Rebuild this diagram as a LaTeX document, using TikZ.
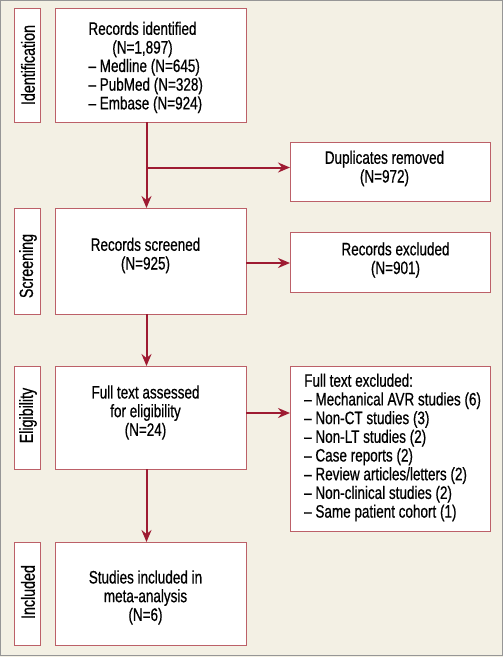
\documentclass[tikz,border=0pt]{standalone}
\usepackage{fontspec}
\setmainfont{Liberation Sans}[FakeStretch=0.75,FakeBold=0.6]
\usetikzlibrary{arrows.meta,calc}
\definecolor{bgc}{RGB}{243,240,228}
\definecolor{boxc}{RGB}{188,96,104}
\definecolor{arrc}{RGB}{158,27,50}
\definecolor{framec}{RGB}{150,150,150}
\begin{document}
\begin{tikzpicture}[x=1pt,y=-1pt,
  box/.style={draw=boxc,line width=1pt,fill=white,inner sep=0pt,outer sep=0pt},
  mainbox/.style={box,minimum width=191pt},
  sidebox/.style={box,minimum width=200pt},
  labbox/.style={box,minimum width=26pt},
  txt/.style={inner sep=0pt,align=center,font=\fontsize{18}{18.7}\selectfont},
  ltxt/.style={inner sep=0pt,align=left,font=\fontsize{18}{18.7}\selectfont},
  labtxt/.style={inner sep=0pt,rotate=90,font=\fontsize{19}{20}\selectfont},
  flow/.style={draw=arrc,line width=2pt,-{Stealth[length=12pt,width=10pt,inset=4pt]}}]
\useasboundingbox (0,0) rectangle (503,657);
\fill[bgc] (0,0) rectangle (503,657);
\draw[framec,line width=1pt] (0.5,0.5) rectangle (502.5,655.5);
% stage labels
\node[labbox,minimum height=114pt] (lab1) at (27,65) {};
\node[labbox,minimum height=106pt] (lab2) at (27,261) {};
\node[labbox,minimum height=103pt] (lab3) at (27,417.5) {};
\node[labbox,minimum height=103pt] (lab4) at (27,593.5) {};
\node[labtxt] (lab1t) at ($(lab1.center)+(1,0)$) {Identification};
\node[labtxt] (lab2t) at ($(lab2.center)+(1,5)$) {Screening};
\node[labtxt] (lab3t) at ($(lab3.center)+(1,-2)$) {Eligibility};
\node[labtxt] (lab4t) at ($(lab4.center)+(1,-1.5)$) {Included};
% main column
\node[mainbox,minimum height=114pt] (id) at (150.5,65) {};
\node[mainbox,minimum height=106pt] (scr) at (150.5,261) {};
\node[mainbox,minimum height=103pt] (elig) at (150.5,417.5) {};
\node[mainbox,minimum height=103pt] (inc) at (150.5,593.5) {};
\node[txt] (idt1) at (142.5,39.5) {Records identified\\(N=1,897)};
\node[ltxt,anchor=west] (idt2) at (88.3,86) {– Medline (N=645)\\– PubMed (N=328)\\– Embase (N=924)};
\node[txt] (scrt) at ($(scr.center)+(-5,-5.5)$) {Records screened\\(N=925)};
\node[txt] (eligt) at ($(elig.center)+(-5,-5)$) {Full text assessed\\for eligibility\\(N=24)};
\node[txt] (inct) at ($(inc.center)+(-5,4)$) {Studies included in\\meta-analysis\\(N=6)};
% side column
\node[sidebox,minimum height=59pt] (dup) at (390,171.5) {};
\node[sidebox,minimum height=60pt] (excl) at (390,262) {};
\node[sidebox,minimum height=165pt] (ftex) at (390,448.5) {};
\node[txt] (dupt) at ($(dup.center)+(-5.5,-3)$) {Duplicates removed\\(N=972)};
\node[txt] (exclt) at ($(excl.center)+(5.5,-2)$) {Records excluded\\(N=901)};
\node[ltxt,anchor=west] (ftext) at (304,447.5) {Full text excluded:\\– Mechanical AVR studies (6)\\– Non-CT studies (3)\\– Non-LT studies (2)\\– Case reports (2)\\– Review articles/letters (2)\\– Non-clinical studies (2)\\– Same patient cohort (1)};
% connectors
\coordinate (c1) at ($(id.south)+(-4,0)$);
\coordinate (c2) at ($(scr.north)+(-4,0)$);
\coordinate (br) at (c1 |- 0,167.5);
\draw[flow] (c1) -- (c2);
\draw[flow] (br) -- (br -| dup.west);
\draw[flow] ($(scr.east)+(0,2)$) -- ($(scr.east -| excl.west)+(0,2)$);
\draw[flow] ($(scr.south)+(-4,0)$) -- ($(elig.north)+(-4,0)$);
\draw[flow] ($(elig.east)+(0,-4.5)$) -- ($(elig.east -| ftex.west)+(0,-4.5)$);
\draw[flow] ($(elig.south)+(-4,0)$) -- ($(inc.north)+(-4,0)$);
\end{tikzpicture}
\end{document}
